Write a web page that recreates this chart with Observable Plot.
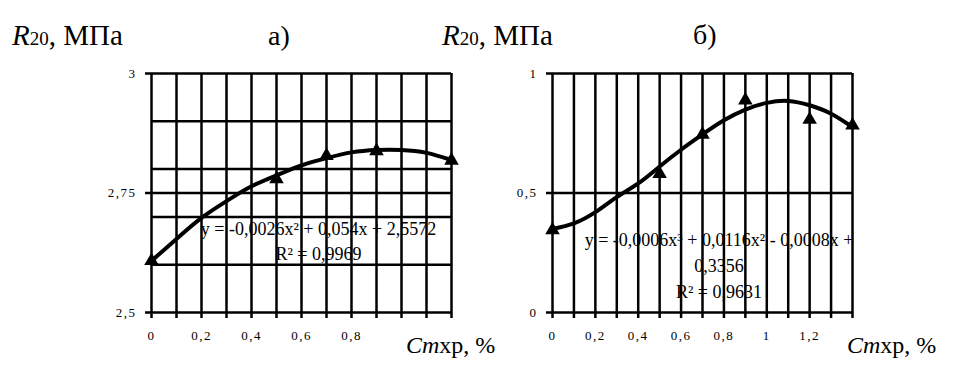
<!DOCTYPE html>
<html>
<head>
<meta charset="utf-8">
<script src="https://cdn.jsdelivr.net/npm/d3@7"></script>
<script src="https://cdn.jsdelivr.net/npm/@observablehq/plot@0.6"></script>
<style>
  html, body { margin: 0; padding: 0; background: #fff; }
  #wrap { position: relative; width: 974px; height: 371px; overflow: hidden; font-family: "Liberation Serif", "Times New Roman", serif; color: #000; }
  .panel { position: absolute; top: 0; }
  .lbl { position: absolute; line-height: 1; white-space: nowrap; }
  g[aria-label="x-axis tick label"] text, g[aria-label="y-axis tick label"] text { letter-spacing: 1.5px; }
</style>
</head>
<body>
<div id="wrap">
  <div class="panel" id="left" style="left:0"></div>
  <div class="panel" id="right" style="left:487px"></div>
  <div class="lbl" style="left:12px; top:21px; font-size:29px"><i>R</i><span style="font-size:19px">20</span>, МПа</div>
  <div class="lbl" style="left:268px; top:22px; font-size:28px">а)</div>
  <div class="lbl" style="left:442px; top:21px; font-size:29px"><i>R</i><span style="font-size:19px">20</span>, МПа</div>
  <div class="lbl" style="left:693px; top:21px; font-size:28px">б)</div>
  <div class="lbl" style="left:406px; top:333px; font-size:24px"><i>Cm</i>хр, %</div>
  <div class="lbl" style="left:847px; top:333px; font-size:24px"><i>Cm</i>хр, %</div>
</div>
<script>
// ---- Panel а) ----
const leftGridX = [0, 0.1, 0.2, 0.3, 0.4, 0.5, 0.6, 0.7, 0.8, 0.9, 1, 1.1, 1.2];
const leftXLabels = [0, 0.2, 0.4, 0.6, 0.8];
const leftGridY = [2.5, 2.6, 2.7, 2.75, 2.8, 2.9, 3];
const leftYTicks = [2.5, 2.75, 3];
const leftCurveY = [2.608, 2.654, 2.698, 2.733, 2.764, 2.787, 2.808, 2.823, 2.835, 2.840, 2.840, 2.834, 2.819];
const leftPointsX = [0, 0.5, 0.7, 0.9, 1.2];
const leftPointsY = [2.608, 2.779, 2.828, 2.838, 2.818];
const leftEquation = "y = -0,0026x² + 0,054x + 2,5572\nR² = 0,9969";

// ---- Panel б) ----
const rightGridX = [0, 0.1, 0.2, 0.3, 0.4, 0.5, 0.6, 0.7, 0.8, 0.9, 1, 1.1, 1.2, 1.3, 1.4];
const rightXLabels = [0, 0.2, 0.4, 0.6, 0.8, 1, 1.2];
const rightGridY = [0, 0.5, 1];
const rightYTicks = [0, 0.5, 1];
const rightCurveY = [0.350, 0.373, 0.420, 0.483, 0.540, 0.611, 0.681, 0.745, 0.804, 0.849, 0.877, 0.885, 0.867, 0.832, 0.776];
const rightPointsX = [0, 0.5, 0.7, 0.9, 1.2, 1.4];
const rightPointsY = [0.345, 0.580, 0.745, 0.888, 0.807, 0.783];
const rightEquation = "y = -0,0006x³ + 0,0116x² - 0,0008x +\n0,3356\nR² = 0,9631";

const fmt = d => String(d).replace(".", ",");

function panel({gridX, xLabels, gridY, yTicks, xDomain, yDomain, curveY, ptsX, ptsY, eq, eqX, eqY, eqLH, margins}) {
  const curve = gridX.map((x, i) => ({x, y: curveY[i]}));
  const pts = ptsX.map((x, i) => ({x, y: ptsY[i]}));
  return Plot.plot({
    width: 487, height: 371,
    ...margins,
    x: {domain: xDomain, axis: null},
    y: {domain: yDomain, axis: null},
    style: {fontFamily: "'Liberation Serif', serif", background: "white", color: "black", overflow: "visible"},
    marks: [
      Plot.ruleX(gridX, {stroke: "black", strokeWidth: 2.5}),
      Plot.ruleY(gridY, {stroke: "black", strokeWidth: 2.5}),
      Plot.axisX({ticks: gridX, tickSize: 6, tickPadding: 12, strokeWidth: 2.5, fontSize: 13, label: null,
        tickFormat: d => xLabels.includes(d) ? fmt(d) : ""}),
      Plot.axisY({ticks: yTicks, tickSize: 6, tickPadding: 9, strokeWidth: 2.5, fontSize: 13, label: null,
        tickFormat: fmt}),
      Plot.text([eq], {x: () => eqX, y: () => eqY, text: d => d, fontSize: 18, lineHeight: eqLH,
        fontFamily: "Liberation Serif", fill: "black", textAnchor: "middle"}),
      Plot.line(curve, {x: "x", y: "y", curve: "natural", stroke: "black", strokeWidth: 4}),
      Plot.dot(pts, {x: "x", y: "y", symbol: "triangle", r: 5.4, fill: "black", stroke: "none"})
    ]
  });
}

document.getElementById("left").append(panel({
  gridX: leftGridX, xLabels: leftXLabels, gridY: leftGridY, yTicks: leftYTicks,
  xDomain: [0, 1.2], yDomain: [2.5, 3], curveY: leftCurveY, ptsX: leftPointsX, ptsY: leftPointsY,
  eq: leftEquation, eqX: 0.668, eqY: 2.652, eqLH: 1.39,
  margins: {marginLeft: 151, marginRight: 36, marginTop: 73, marginBottom: 59}
}));

document.getElementById("right").append(panel({
  gridX: rightGridX, xLabels: rightXLabels, gridY: rightGridY, yTicks: rightYTicks,
  xDomain: [0, 1.4], yDomain: [0, 1], curveY: rightCurveY, ptsX: rightPointsX, ptsY: rightPointsY,
  eq: rightEquation, eqX: 0.777, eqY: 0.205, eqLH: 1.47,
  margins: {marginLeft: 65, marginRight: 122, marginTop: 73, marginBottom: 59}
}));
</script>
</body>
</html>
